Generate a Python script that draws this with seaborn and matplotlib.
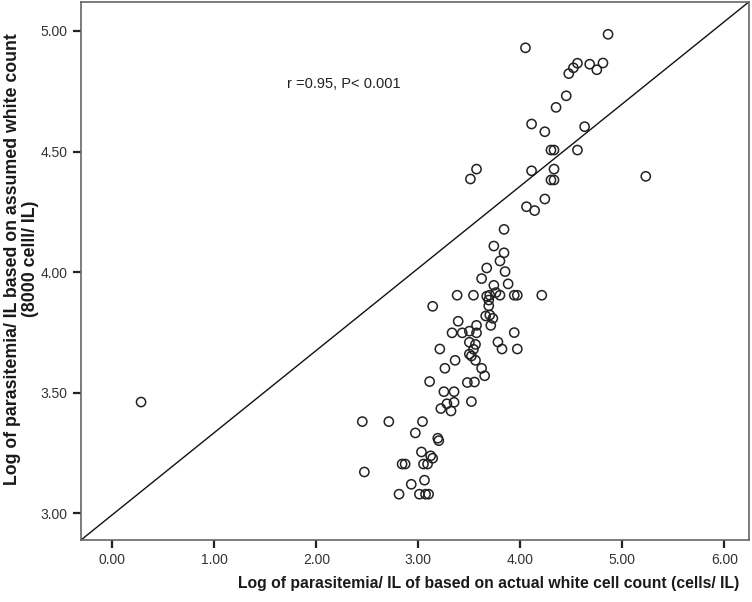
import numpy as np
import pandas as pd
import matplotlib
matplotlib.use("Agg")
import matplotlib.pyplot as plt
import seaborn as sns

# ---------- data ----------
actual_log = [
    4.05, 4.86, 4.56, 4.52, 4.475, 4.68, 4.75, 4.81, 4.45, 4.35, 4.11, 4.24, 4.63,
    4.30, 4.33, 4.56, 3.57, 3.51, 4.11, 4.33, 4.30, 4.33, 5.23, 4.24, 4.06, 4.14,
    3.84, 3.74, 3.84, 3.80, 3.67, 3.85, 3.62, 3.74, 3.88, 3.76, 3.38, 3.54, 3.67,
    3.70, 3.80, 3.94, 3.97, 4.21, 3.14, 3.69, 3.69, 3.66, 3.70, 3.73, 3.39, 3.57,
    3.71, 3.33, 3.43, 3.50, 3.57, 3.94, 3.50, 3.56, 3.78, 3.21, 3.54, 3.82, 3.97,
    3.50, 3.52, 3.36, 3.56, 3.26, 3.62, 3.65, 3.11, 3.48, 3.55, 3.25, 3.35, 3.28,
    3.35, 3.22, 3.32, 3.52,
    2.45, 2.71, 3.04, 2.97, 3.19, 3.20, 3.03, 3.12, 3.14, 2.84, 2.87, 3.05, 3.09,
    2.47, 2.93, 3.06, 2.81, 3.01, 3.07, 3.10,
    0.28,
]
assumed_log = [
    4.93, 4.986, 4.866, 4.847, 4.823, 4.862, 4.839, 4.867, 4.731, 4.683, 4.614, 4.582, 4.603,
    4.506, 4.506, 4.506, 4.427, 4.386, 4.42, 4.427, 4.382, 4.382, 4.397, 4.303, 4.271, 4.255,
    4.177, 4.108, 4.080, 4.046, 4.017, 4.002, 3.973, 3.945, 3.951, 3.915, 3.904, 3.904, 3.90,
    3.904, 3.904, 3.904, 3.904, 3.904, 3.858, 3.884, 3.86, 3.818, 3.822, 3.808, 3.796, 3.779,
    3.779, 3.748, 3.748, 3.755, 3.748, 3.749, 3.709, 3.70, 3.71, 3.681, 3.68, 3.681, 3.681,
    3.66, 3.652, 3.634, 3.634, 3.601, 3.601, 3.57, 3.546, 3.542, 3.544, 3.504, 3.504, 3.454,
    3.46, 3.434, 3.424, 3.463,
    3.38, 3.38, 3.38, 3.333, 3.311, 3.301, 3.254, 3.238, 3.228, 3.204, 3.204, 3.204, 3.204,
    3.171, 3.12, 3.137, 3.079, 3.079, 3.079, 3.079,
    3.461,
]
x_ticks = [0.0, 1.0, 2.0, 3.0, 4.0, 5.0, 6.0]
y_ticks = [3.0, 3.5, 4.0, 4.5, 5.0]
stat_text = "r =0.95, P< 0.001"

df = pd.DataFrame({"actual": actual_log, "assumed": assumed_log})

# ---------- style ----------
sns.set_theme(style="ticks")
plt.rcParams["font.family"] = ["Liberation Sans", "DejaVu Sans"]

fig = plt.figure(figsize=(7.52, 6.02), dpi=100)
ax = fig.add_axes([0.1077, 0.103, 0.888, 0.8937])

sns.scatterplot(
    data=df, x="actual", y="assumed", ax=ax,
    marker="o", s=44, facecolor="none", edgecolor="#222222", linewidth=1.1,
)

# corner-to-corner reference line
ax.plot([0, 1], [0, 1], transform=ax.transAxes, color="#111111", lw=1.0)

ax.set_xlim(-0.309, 6.24)
ax.set_ylim(2.889, 5.12)
ax.set_xticks(x_ticks)
ax.set_yticks(y_ticks)
ax.set_xticklabels([f"{t:.2f}" for t in x_ticks])
ax.set_yticklabels([f"{t:.2f}" for t in y_ticks])
ax.tick_params(axis="both", direction="out", length=6, width=1.6,
               color="#222222", labelsize=10, labelcolor="#333333")

for side in ["top", "right", "left", "bottom"]:
    ax.spines[side].set_visible(True)
    ax.spines[side].set_color("#666666")
    ax.spines[side].set_linewidth(1.2)

ax.set_xlabel("Log of parasitemia/ IL of based on actual white cell count (cells/ IL)",
              fontsize=11.3, fontweight="bold", color="#1a1a1a")
ax.xaxis.set_label_coords(0.61, -0.066)
ax.set_ylabel("Log of parasitemia/ IL based on assumed white count\n(8000 celll/ IL)",
              fontsize=12.8, fontweight="bold", color="#1a1a1a", linespacing=1.1)
ax.yaxis.set_label_coords(-0.063, 0.522)

ax.text(0.308, 0.848, stat_text, transform=ax.transAxes,
        fontsize=10.5, color="#222222", ha="left", va="center")

fig.savefig("out.png", dpi=100)
